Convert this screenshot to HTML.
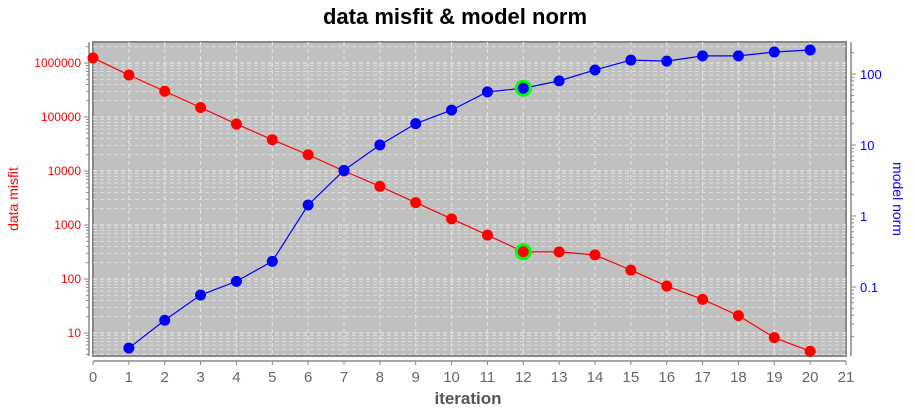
<!DOCTYPE html>
<html><head><meta charset="utf-8"><style>
body{margin:0;background:#fff;}
svg{display:block;font-family:"Liberation Sans",sans-serif;}
</style></head><body>
<svg id="chart" width="915" height="413" xmlns="http://www.w3.org/2000/svg">
<text x="455" y="24" text-anchor="middle" font-size="22" font-weight="bold" fill="#000">data misfit &amp; model norm</text>
<rect x="93" y="42" width="753" height="314" fill="#c0c0c0" stroke="#888" stroke-width="2"/>
<g id="grid"></g>
<g id="axes"></g>
<g id="series"></g>
<text x="468" y="404" text-anchor="middle" font-size="17" font-weight="bold" fill="#555">iteration</text>
<text transform="translate(18,199) rotate(-90)" text-anchor="middle" font-size="14" fill="#f00">data misfit</text>
<text transform="translate(893,199) rotate(90)" text-anchor="middle" font-size="14" fill="#00f">model norm</text>
</svg>
<script>
const iterations=[0,1,2,3,4,5,6,7,8,9,10,11,12,13,14,15,16,17,18,19,20];
const misfit=[1.24e6,6e5,3.0e5,1.5e5,7.4e4,3.8e4,2.0e4,1.0e4,5.2e3,2.6e3,1.3e3,650,320,318,280,146,74,42,21,8.2,4.6];
const normIter=[1,2,3,4,5,6,7,8,9,10,11,12,13,14,15,16,17,18,19,20];
const norm=[0.0138,0.034,0.077,0.12,0.23,1.43,4.4,10,20,31,56,63,80,114,157,152,180,180,204,218];
const xTicks=[0,1,2,3,4,5,6,7,8,9,10,11,12,13,14,15,16,17,18,19,20,21];
const leftTicks=[10,100,1000,10000,100000,1000000];
const leftLabels=["10","100","1000","10000","100000","1000000"];
const rightTicks=[0.1,1,10,100];
const rightLabels=["0.1","1","10","100"];
const selected=12;
const NS="http://www.w3.org/2000/svg";
const X0=93,X1=846,Y0=42,Y1=356;
const xs=v=>X0+(v-0)/21*(X1-X0);
const yl=v=>63-(Math.log10(v)-6)*54;
const yr=v=>74-(Math.log10(v)-2)*71;
function mk(p,t,a){const e=document.createElementNS(NS,t);for(const k in a)e.setAttribute(k,a[k]);p.appendChild(e);return e;}
const grid=document.getElementById('grid'),axes=document.getElementById('axes'),ser=document.getElementById('series');
// vertical grid
xTicks.forEach(t=>{if(t>0&&t<21){const l=mk(grid,'line',{x1:xs(t),x2:xs(t),y1:Y0,y2:Y1,stroke:'#e6e6e6','stroke-dasharray':'4,3'});
}});
// horizontal minor grid (left axis)
for(let d=0;d<=6;d++)for(let m=1;m<10;m++){const v=m*Math.pow(10,d);const y=yl(v);if(y>Y0&&y<Y1){const l=mk(grid,'line',{x1:X0,x2:X1,y1:y,y2:y,stroke:'#e6e6e6','stroke-dasharray':'4,3','stroke-width':m==1?1.2:0.8});
}}
// axes lines
mk(axes,'line',{x1:89,x2:89,y1:Y0,y2:Y1,stroke:'#888','stroke-width':1.5});
mk(axes,'line',{x1:851,x2:851,y1:Y0,y2:Y1,stroke:'#888','stroke-width':1.5});
mk(axes,'line',{x1:X0,x2:X1,y1:361,y2:361,stroke:'#888','stroke-width':1.5});
xTicks.forEach(t=>{mk(axes,'line',{x1:xs(t),x2:xs(t),y1:361,y2:365,stroke:'#888'});
const tx=mk(axes,'text',{x:xs(t),y:382,'text-anchor':'middle','font-size':15,fill:'#666'});tx.textContent=t;
});
for(let d=0;d<=6;d++)for(let m=1;m<10;m++){const y=yl(m*Math.pow(10,d));if(y>Y0&&y<Y1)mk(axes,'line',{x1:m==1?84:86,x2:89,y1:y,y2:y,stroke:'#888'});}
leftTicks.forEach((t,i)=>{const tx=mk(axes,'text',{x:81,y:yl(t)+4,'text-anchor':'end','font-size':12,fill:'#f00'});tx.textContent=leftLabels[i];
});
for(let d=-2;d<=2;d++)for(let m=1;m<10;m++){const y=yr(m*Math.pow(10,d));if(y>Y0&&y<Y1)mk(axes,'line',{x1:851,x2:m==1?856:854,y1:y,y2:y,stroke:'#888'});}
rightTicks.forEach((t,i)=>{const tx=mk(axes,'text',{x:860,y:yr(t)+5,'font-size':13,fill:'#00f'});tx.textContent=rightLabels[i];
});
// series
function draw(xsArr,vals,yf,col,name){
const pts=xsArr.map((x,i)=>xs(x)+','+yf(vals[i])).join(' ');
const pl=mk(ser,'polyline',{points:pts,fill:'none',stroke:col,'stroke-width':1.2});

xsArr.forEach((x,i)=>{if(x===selected){const r=mk(ser,'circle',{cx:xs(x),cy:yf(vals[i]),r:8.5,fill:'#00ff00'});
}
const c=mk(ser,'circle',{cx:xs(x),cy:yf(vals[i]),r:5.5,fill:col});
});}
draw(iterations,misfit,yl,'#f00','misfit');
draw(normIter,norm,yr,'#00f','norm');
</script>
</body></html>
